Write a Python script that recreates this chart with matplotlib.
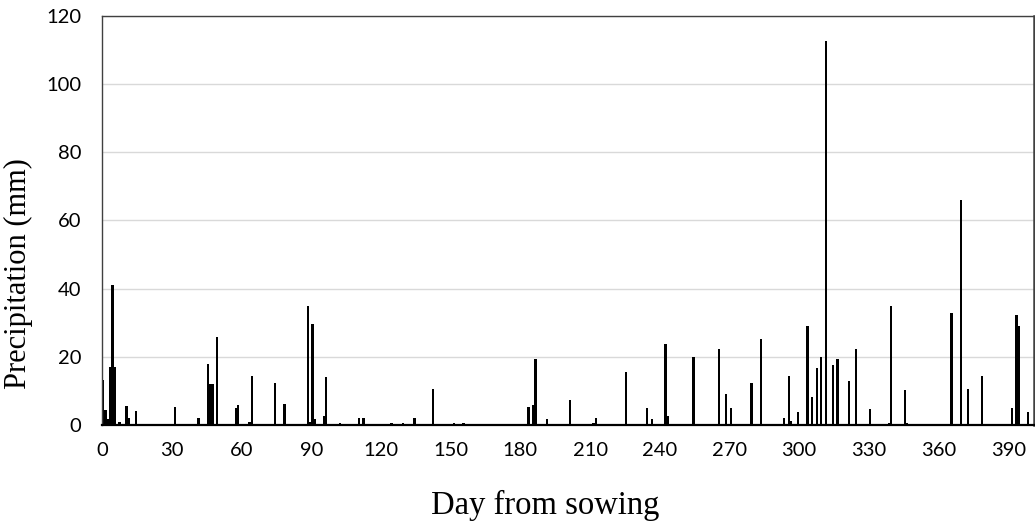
import matplotlib
matplotlib.use("Agg")
import matplotlib.pyplot as plt
from matplotlib.ticker import MultipleLocator

OUTPUT_FILENAME = "out.png"

# day from sowing (bar covers [day, day+1)) and daily precipitation in mm
days = [0, 1, 2, 3, 4, 5, 7, 8, 10, 11, 14, 31, 41, 45, 46, 47, 49, 57, 58, 63,
        64, 74, 78, 88, 89, 90, 91, 95, 96, 102, 110, 112, 124, 129, 134, 142,
        151, 155, 183, 185, 186, 191, 201, 211, 212, 225, 234, 236, 242, 243,
        254, 265, 268, 270, 279, 283, 293, 295, 296, 299, 303, 305, 307, 309,
        311, 314, 316, 321, 324, 330, 338, 339, 345, 346, 365, 369, 372, 378,
        391, 393, 394, 398]
precip = [13.2, 4.4, 1.7, 17, 41, 17, 0.8, 0.3, 5.7, 2, 4.2, 5.4, 2, 18, 12, 12,
          25.7, 5, 6, 0.8, 14.4, 12.2, 6.2, 35, 0.8, 29.6, 1.7, 2.7, 14, 0.5, 2,
          2, 0.5, 0.5, 2, 10.7, 0.5, 0.5, 5.4, 6, 19.3, 1.7, 7.4, 0.5, 2, 15.6,
          5, 1.7, 23.8, 2.7, 20, 22.3, 9.1, 5, 12.2, 25.3, 2, 14.4, 1.3, 3.8,
          29.1, 8.3, 16.7, 20, 112.7, 17.5, 19.3, 12.9, 22.3, 4.6, 0.5, 34.8,
          10.3, 0.5, 32.8, 66, 10.7, 14.4, 5, 32.4, 29.1, 3.8]

x_ticks = list(range(0, 391, 30))

TICK_FONT = ["Lato", "DejaVu Sans"]
LABEL_FONT = ["Liberation Serif", "DejaVu Serif"]
COLOR_BAR = "black"
COLOR_GRID = "#d9d9d9"
COLOR_FRAME = "#404040"


def render():
    fig = plt.figure(figsize=(10.35, 5.23), dpi=100)
    ax = fig.add_axes([0.0986, 0.1874, 0.9004, 0.782])

    ax.bar(days, precip, width=1.0, align="edge", color=COLOR_BAR, linewidth=0)

    ax.set_xlim(0, 401)
    ax.set_ylim(0, 120)
    ax.set_xticks(x_ticks)
    ax.yaxis.set_major_locator(MultipleLocator(20))
    ax.grid(axis="y", color=COLOR_GRID, linewidth=1.0)
    ax.set_axisbelow(True)

    ax.tick_params(axis="x", length=0, pad=12)
    ax.tick_params(axis="y", length=0, pad=15)
    for lab in ax.get_xticklabels() + ax.get_yticklabels():
        lab.set_fontfamily(TICK_FONT)
        lab.set_fontsize(14.5)

    for side in ("top", "left", "right"):
        ax.spines[side].set_color(COLOR_FRAME)
        ax.spines[side].set_linewidth(1.0)
    ax.spines["right"].set_linewidth(1.8)
    ax.spines["bottom"].set_color("black")
    ax.spines["bottom"].set_linewidth(1.6)

    ax.set_xlabel("Day from sowing", fontfamily=LABEL_FONT, fontsize=23.5)
    ax.xaxis.set_label_coords(0.475, -0.16)
    ax.set_ylabel("Precipitation (mm)", fontfamily=LABEL_FONT, fontsize=22)
    ax.yaxis.set_label_coords(-0.074, 0.37)

    fig.savefig(OUTPUT_FILENAME, dpi=100)
    plt.close(fig)
    return OUTPUT_FILENAME


if __name__ == "__main__":
    print(f"saved: {render()}")
